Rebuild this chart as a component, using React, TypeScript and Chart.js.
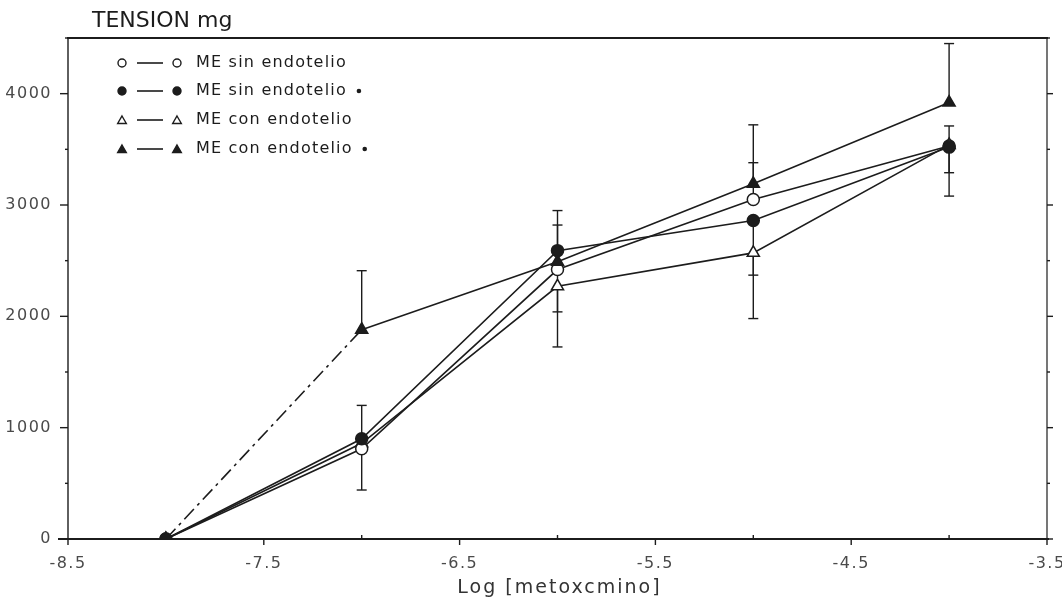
import React, { useEffect, useRef } from "react";
import { Chart, registerables } from "chart.js";

Chart.register(...registerables);

// ---- data ----
const doses = [-8, -7, -6, -5, -4];
const sinEndotelio = [0, 810, 2420, 3050, 3530];
const sinEndotelioStar = [0, 900, 2590, 2860, 3520];
const conEndotelio = [0, 860, 2270, 2570, 3540];
const conEndotelioStar = [0, 1880, 2490, 3190, 3920];

const sinEndotelioErrUp = [0, 0, 400, 330, 0];
const sinEndotelioErrDown = [0, 370, 380, 0, 240];
const sinEndotelioStarErrUp = [0, 300, 360, 0, 190];
const sinEndotelioStarErrDown = [0, 0, 0, 490, 440];
const conEndotelioErrUp = [0, 0, 0, 0, 0];
const conEndotelioErrDown = [0, 0, 545, 590, 0];
const conEndotelioStarErrUp = [0, 530, 0, 530, 530];
const conEndotelioStarErrDown = [0, 0, 0, 0, 0];

const xTickValues = [-8.5, -7.5, -6.5, -5.5, -4.5, -3.5];
const yTickValues = [0, 1000, 2000, 3000, 4000];
const seriesNames = ["ME sin endotelio", "ME sin endotelio", "ME con endotelio", "ME con endotelio"];
const yTitle = "TENSION mg";
const xTitle = "Log [metoxcmino]";

const INK = "#1c1c1c";
const FONT = "'DejaVu Sans', sans-serif";

type Series = {
  name: string;
  values: number[];
  up: number[];
  down: number[];
  shape: "circle" | "triangle";
  filled: boolean;
  star: boolean;
  order: number;
};

const series: Series[] = [
  { name: seriesNames[0], values: sinEndotelio, up: sinEndotelioErrUp, down: sinEndotelioErrDown, shape: "circle", filled: false, star: false, order: 2 },
  { name: seriesNames[1], values: sinEndotelioStar, up: sinEndotelioStarErrUp, down: sinEndotelioStarErrDown, shape: "circle", filled: true, star: true, order: 0 },
  { name: seriesNames[2], values: conEndotelio, up: conEndotelioErrUp, down: conEndotelioErrDown, shape: "triangle", filled: false, star: false, order: 3 },
  { name: seriesNames[3], values: conEndotelioStar, up: conEndotelioStarErrUp, down: conEndotelioStarErrDown, shape: "triangle", filled: true, star: true, order: 1 },
];

function seg(ctx: CanvasRenderingContext2D, x1: number, y1: number, x2: number, y2: number) {
  ctx.beginPath();
  ctx.moveTo(x1, y1);
  ctx.lineTo(x2, y2);
  ctx.stroke();
}

function marker(ctx: CanvasRenderingContext2D, s: Series, x: number, y: number, r: number) {
  ctx.beginPath();
  if (s.shape === "circle") {
    ctx.arc(x, y, r, 0, Math.PI * 2);
  } else {
    let a = 0;
    ctx.moveTo(x + Math.sin(a) * r, y - Math.cos(a) * r);
    a += (2 * Math.PI) / 3;
    ctx.lineTo(x + Math.sin(a) * r, y - Math.cos(a) * r);
    a += (2 * Math.PI) / 3;
    ctx.lineTo(x + Math.sin(a) * r, y - Math.cos(a) * r);
    ctx.closePath();
  }
  ctx.fillStyle = s.filled ? INK : "#fff";
  ctx.fill();
  ctx.lineWidth = 1.4;
  ctx.strokeStyle = INK;
  ctx.stroke();
}

const figurePlugin = {
  id: "figure",
  beforeDraw(chart: any) {
    chart.ctx.letterSpacing = "1.5px";
  },
  beforeDatasetsDraw(chart: any) {
    const { ctx, chartArea: ca, scales } = chart;
    const xs = scales.x;
    const ys = scales.y;
    ctx.save();
    ctx.letterSpacing = "0px";
    ctx.strokeStyle = INK;
    // frame
    ctx.lineWidth = 2;
    seg(ctx, ca.left - 10, ca.bottom, ca.right + 2, ca.bottom);
    seg(ctx, ca.left - 1, ca.top, ca.right + 1, ca.top);
    ctx.lineWidth = 1.4;
    seg(ctx, ca.left, ca.top, ca.left, ca.bottom);
    ctx.lineWidth = 1.2;
    seg(ctx, ca.right, ca.top, ca.right, ca.bottom);
    // y ticks (major and minor), left outward, right outward
    const step = 500;
    for (let v = ys.min; v <= ys.max; v += step) {
      const y = ys.getPixelForValue(v);
      const major = v % 1000 === 0;
      ctx.lineWidth = 1.4;
      seg(ctx, ca.left - (major ? 8 : 3), y, ca.left, y);
      seg(ctx, ca.right, y, ca.right + (major ? 6 : 3), y);
    }
    // x ticks
    for (const v of xTickValues) {
      const x = xs.getPixelForValue(v);
      seg(ctx, x, ca.bottom, x, ca.bottom + 6);
    }
    for (const v of doses) {
      const x = xs.getPixelForValue(v);
      seg(ctx, x, ca.bottom - 4, x, ca.bottom);
    }
    // error bars
    ctx.lineWidth = 1.4;
    for (const s of series) {
      doses.forEach((d, i) => {
        const x = xs.getPixelForValue(d);
        const y0 = ys.getPixelForValue(s.values[i]);
        if (s.up[i] > 0) {
          const yU = ys.getPixelForValue(s.values[i] + s.up[i]);
          seg(ctx, x, y0, x, yU);
          seg(ctx, x - 5, yU, x + 5, yU);
        }
        if (s.down[i] > 0) {
          const yD = ys.getPixelForValue(s.values[i] - s.down[i]);
          seg(ctx, x, y0, x, yD);
          seg(ctx, x - 5, yD, x + 5, yD);
        }
      });
    }
    ctx.restore();
  },
  afterDraw(chart: any) {
    const { ctx, chartArea: ca } = chart;
    ctx.save();
    // y title
    ctx.letterSpacing = "0px";
    ctx.fillStyle = INK;
    ctx.font = `22px ${FONT}`;
    ctx.textAlign = "left";
    ctx.textBaseline = "middle";
    ctx.fillText(yTitle, 92, 21);
    // x title
    ctx.letterSpacing = "2px";
    ctx.font = `19px ${FONT}`;
    ctx.textAlign = "center";
    ctx.fillStyle = "#333";
    ctx.fillText(xTitle, (ca.left + ca.right) / 2 + 2, 588);
    // legend
    const rows = [63, 91, 120, 149];
    series.forEach((s, i) => {
      const y = rows[i];
      const r = s.shape === "circle" ? 4 : 5;
      const yy = s.shape === "circle" ? y : y + 1;
      ctx.strokeStyle = INK;
      ctx.lineWidth = 1.6;
      seg(ctx, 137, y, 163, y);
      marker(ctx, s, 122, yy, r);
      marker(ctx, s, 177, yy, r);
      ctx.letterSpacing = "1.2px";
      ctx.font = `16px ${FONT}`;
      ctx.textAlign = "left";
      ctx.textBaseline = "middle";
      ctx.fillStyle = INK;
      ctx.fillText(s.name, 196, y);
      if (s.star) {
        const w = ctx.measureText(s.name).width;
        ctx.beginPath();
        ctx.arc(196 + w + 12, y, 2.3, 0, Math.PI * 2);
        ctx.fill();
      }
    });
    ctx.restore();
  },
};

export default function App() {
  const ref = useRef<HTMLCanvasElement>(null);
  useEffect(() => {
    const datasets = series.map((s) => ({
      label: s.name + (s.star ? " *" : ""),
      data: doses.map((d, i) => ({ x: d, y: s.values[i] })),
      showLine: true,
      fill: false,
      tension: 0,
      borderColor: INK,
      borderWidth: 1.6,
      pointStyle: s.shape,
      pointRadius: s.shape === "circle" ? 6 : 7,
      pointBackgroundColor: s.filled ? INK : "#ffffff",
      pointBorderColor: INK,
      pointBorderWidth: 1.5,
      order: s.order,
      segment:
        s.star && s.shape === "triangle"
          ? { borderDash: (c: any) => (c.p0DataIndex === 0 ? [14, 5, 3, 5] : undefined) }
          : undefined,
    }));
    const chart = new Chart(ref.current as HTMLCanvasElement, {
      type: "line",
      data: { datasets } as any,
      plugins: [figurePlugin],
      options: {
        animation: false,
        responsive: false,
        maintainAspectRatio: false,
        layout: { padding: { left: 0, top: 38, right: 15, bottom: 0 } },
        plugins: { legend: { display: false }, tooltip: { enabled: false } },
        scales: {
          x: {
            type: "linear",
            min: -8.5,
            max: -3.5,
            afterBuildTicks: (s: any) => {
              s.ticks = xTickValues.map((v) => ({ value: v }));
            },
            afterFit: (s: any) => {
              s.height = 67;
              s.paddingLeft = 0;
              s.paddingRight = 0;
            },
            grid: { display: false, drawTicks: false },
            border: { display: false },
            ticks: {
              callback: (v: any) => String(v),
              autoSkip: false,
              maxRotation: 0,
              padding: 15,
              color: "#4a4a4a",
              font: { family: "DejaVu Sans", size: 16 },
            },
          },
          y: {
            type: "linear",
            min: 0,
            max: 4500,
            afterBuildTicks: (s: any) => {
              s.ticks = yTickValues.map((v) => ({ value: v }));
            },
            afterFit: (s: any) => {
              s.width = 68;
              s.paddingTop = 0;
              s.paddingBottom = 0;
            },
            grid: { display: false, drawTicks: false },
            border: { display: false },
            ticks: {
              callback: (v: any) => String(v),
              padding: 16,
              color: "#4a4a4a",
              font: { family: "DejaVu Sans", size: 16 },
            },
          },
        },
      } as any,
    });
    return () => chart.destroy();
  }, []);
  return (
    <div style={{ position: "absolute", left: 0, top: 0, width: 1062, height: 606, background: "#fff" }}>
      <canvas ref={ref} width={1062} height={606} style={{ display: "block" }} />
    </div>
  );
}
